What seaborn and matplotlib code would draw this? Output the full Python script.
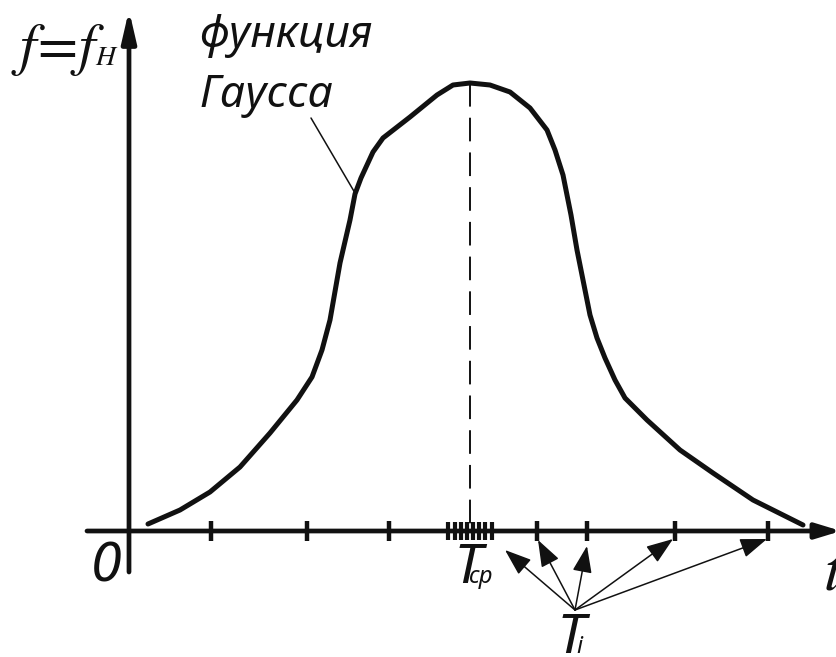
import matplotlib
matplotlib.use("Agg")
import matplotlib.pyplot as plt
import pandas as pd
import seaborn as sns

# Gaussian reliability curve f(t), in drawing units (origin at the axes crossing)
curve_t = [19, 51, 81, 111, 141, 168, 183, 193, 201, 211, 221, 226, 232, 244,
           254, 281, 308, 324, 341, 361, 381, 401, 418, 426, 434, 442, 448,
           455, 461, 468, 476, 486, 496, 518, 551, 584, 624, 674]
curve_f = [7, 21, 39, 64, 98, 131, 154, 181, 211, 268, 311, 337, 353, 379,
           393, 414, 436, 446, 448, 446, 439, 423, 401, 381, 356, 316, 281,
           246, 216, 193, 173, 151, 133, 111, 81, 58, 31, 6]

# mean life T_cp and the individual failure times T_i on the t axis
t_mean = 341
sample_ticks = [82, 178, 260, 408, 458, 546, 639]
cluster_ticks = [319, 326, 332, 338, 344, 350, 356, 363]

# arrows from the T_i label to several of the failure times
ti_origin = (446, -79)
ti_targets_t = [376, 409, 458, 544, 638]
ti_targets_f = [-19, -9, -15, -8, -8]

# leader line of the "функция Гаусса" caption
leader_t = [182, 226]
leader_f = [413, 338]

sns.set_theme(style="white")
plt.rcParams["lines.scale_dashes"] = False
plt.rcParams["mathtext.fontset"] = "stix"

fig = plt.figure(figsize=(8.36, 6.57), dpi=100)
ax = fig.add_axes([0, 0, 1, 1])
ax.set_xlim(-129, 707)
ax.set_ylim(-126, 531)
ax.set_axis_off()

ink = "#111111"

curve = pd.DataFrame({"t": curve_t, "f": curve_f})
sns.lineplot(data=curve, x="t", y="f", sort=False, ax=ax, color=ink,
             lw=3.6, solid_capstyle="round", solid_joinstyle="round")

# axes with arrowheads
ax.annotate("", xy=(712, 0), xytext=(-42, 0), annotation_clip=False,
            arrowprops=dict(arrowstyle="-|>,head_length=1.05,head_width=0.32",
                            mutation_scale=14.4, lw=3.4, color=ink,
                            shrinkA=0, shrinkB=0))
ax.annotate("", xy=(0, 521), xytext=(0, -41), annotation_clip=False,
            arrowprops=dict(arrowstyle="-|>,head_length=1.3,head_width=0.3",
                            mutation_scale=14.4, lw=3.4, color=ink,
                            shrinkA=0, shrinkB=0))

# tick marks of the failure times
ax.vlines(sample_ticks, -10, 10, color=ink, lw=3.2)
ax.vlines(cluster_ticks, -9, 9, color=ink, lw=3.0)

# dashed line through the maximum
ax.plot([t_mean, t_mean], [max(curve_f), 6], color=ink, lw=1.4,
        linestyle=(0, (17, 8)))

# leader line to the caption
ax.plot(leader_t, leader_f, color=ink, lw=1.1)

for tt, ff in zip(ti_targets_t, ti_targets_f):
    ax.annotate("", xy=(tt, ff), xytext=ti_origin,
                arrowprops=dict(arrowstyle="-|>,head_length=1.15,head_width=0.42",
                                mutation_scale=14.4, lw=1.1, color=ink,
                                shrinkA=0, shrinkB=0))

gost = dict(family=["Noto Sans", "DejaVu Sans"], style="italic",
            stretch="extra-condensed", weight="light", color=ink)

ax.text(-118, 467, r"$f\!=\!f$", fontsize=42, ha="left", va="baseline", color=ink)
ax.text(-34, 466, r"$H$", fontsize=20, ha="left", va="baseline", color=ink)
ax.text(694, -59, r"$t$", fontsize=46, ha="left", va="baseline", color=ink)

ax.text(70, 484, "функция", fontsize=32, ha="left", va="baseline", **gost)
ax.text(70, 424, "Гаусса", fontsize=32, ha="left", va="baseline", **gost)
ax.text(-38, -50, "0", fontsize=40, ha="left", va="baseline", **gost)

ax.text(325, -52, "Т", fontsize=40, ha="left", va="baseline", **gost)
ax.text(339, -52, "ср", fontsize=17, ha="left", va="baseline", **gost)
ax.text(428, -122, "Т", fontsize=40, ha="left", va="baseline", **gost)
ax.text(447, -122, "i", fontsize=17, ha="left", va="baseline", **gost)

fig.savefig("out.png", dpi=100, facecolor="white")
